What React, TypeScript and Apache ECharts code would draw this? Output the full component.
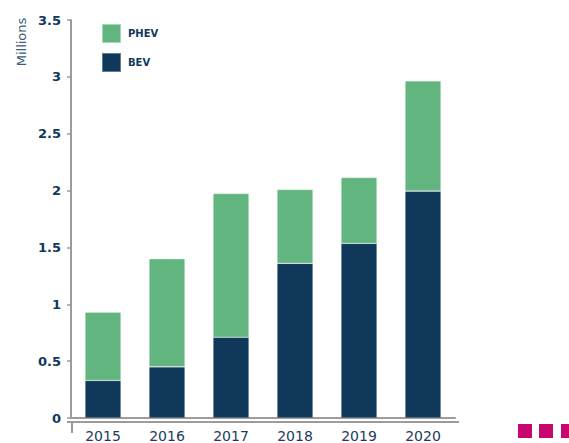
import React, { useEffect, useRef } from "react";
import * as echarts from "echarts";

const years = ["2015", "2016", "2017", "2018", "2019", "2020"];
const bev = [0.33, 0.45, 0.71, 1.36, 1.535, 1.995];
const phevTotal = [0.93, 1.4, 1.975, 2.01, 2.115, 2.965];
const phev = phevTotal.map((t, i) => +(t - bev[i]).toFixed(3));
const yTicks = { min: 0, max: 3.5, interval: 0.5 };

const NAVY = "#0f385b";
const GREEN = "#62b57e";
const FONT = "DejaVu Sans";

export default function App() {
  const ref = useRef<HTMLDivElement>(null);
  useEffect(() => {
    if (!ref.current) return;
    const chart = echarts.init(ref.current, undefined, { renderer: "svg" });
    chart.setOption({
      animation: false,
      grid: { left: 71, top: 20, width: 384, height: 402, containLabel: false },
      legend: {
        orient: "vertical",
        left: 96,
        top: 18,
        itemWidth: 19,
        itemHeight: 19,
        itemGap: 8,
        icon: "rect",
        data: ["PHEV", "BEV"],
        textStyle: { color: NAVY, fontWeight: "bold", fontSize: 10, fontFamily: FONT, padding: [0, 0, 0, 2] },
      },
      xAxis: {
        type: "category",
        data: years,
        axisLine: { show: true, lineStyle: { color: "#9b9b9b", width: 2 } },
        axisTick: { show: false },
        axisLabel: { color: "#1d3b5c", fontSize: 14, fontFamily: FONT, margin: 11 },
      },
      yAxis: {
        type: "value",
        min: yTicks.min,
        max: yTicks.max,
        interval: yTicks.interval,
        splitLine: { show: false },
        axisLine: { show: true, lineStyle: { color: "#9b9b9b", width: 2 } },
        axisTick: { show: true, length: 4, lineStyle: { color: "#9b9b9b", width: 1.5 } },
        axisLabel: { color: NAVY, fontWeight: "bold", fontSize: 13, fontFamily: FONT, margin: 10 },
      },
      graphic: [
        {
          type: "text",
          x: 21,
          y: 42,
          rotation: Math.PI / 2,
          style: {
            text: "Millions",
            fill: "#3f5b7a",
            font: `13px ${FONT}`,
            textAlign: "center",
            textVerticalAlign: "middle",
          },
        },
        { type: "line", shape: { x1: 72, y1: 422, x2: 72, y2: 433 }, style: { stroke: "#9b9b9b", lineWidth: 2 } },
        { type: "line", shape: { x1: 67, y1: 422, x2: 459, y2: 422 }, style: { stroke: "#9b9b9b", lineWidth: 2 } },
        { type: "rect", shape: { x: 518, y: 424, width: 14, height: 14 }, style: { fill: "#c8066f" } },
        { type: "rect", shape: { x: 539, y: 424, width: 14, height: 14 }, style: { fill: "#c8066f" } },
        { type: "rect", shape: { x: 561, y: 424, width: 14, height: 14 }, style: { fill: "#c8066f" } },
      ],
      series: [
        {
          name: "BEV",
          type: "bar",
          stack: "total",
          data: bev,
          barWidth: 36,
          itemStyle: { color: NAVY, borderColor: "rgba(255,255,255,0.35)", borderWidth: 0.6 },
        },
        {
          name: "PHEV",
          type: "bar",
          stack: "total",
          data: phev,
          barWidth: 36,
          itemStyle: { color: GREEN, borderColor: "rgba(255,255,255,0.45)", borderWidth: 0.6 },
        },
      ],
    });
    return () => chart.dispose();
  }, []);
  return <div ref={ref} style={{ width: 569, height: 443, position: "absolute", left: 0, top: 0 }} />;
}
